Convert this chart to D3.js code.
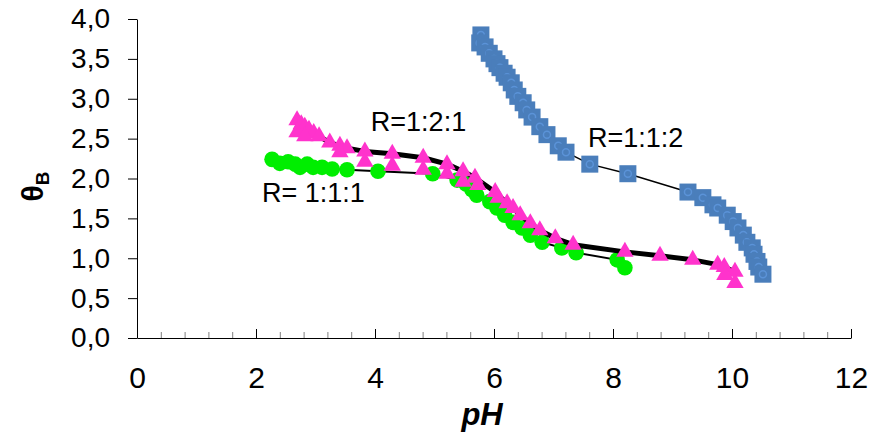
<!DOCTYPE html>
<html>
<head>
<meta charset="utf-8">
<script src="https://cdn.jsdelivr.net/npm/d3@7"></script>
<style>
  body { margin: 0; background: #fff; }
  svg { font-family: "Liberation Sans", Arial, sans-serif; }
  .axis path, .axis line { stroke: #000; }
  .minor line { stroke: #808080; }
</style>
</head>
<body>
<div id="container"></div>
<script>
// R = 1:1:2 (blue squares)
const bluePH    = [5.78, 5.76, 5.85, 5.92, 6.00, 6.05, 6.10, 6.17, 6.22, 6.29, 6.34, 6.40, 6.49, 6.55, 6.64, 6.77, 6.89, 7.08, 7.21, 7.61, 8.25, 9.26, 9.51, 9.68, 9.76, 9.92, 10.02, 10.10, 10.19, 10.25, 10.34, 10.37, 10.42, 10.45, 10.52];
const blueTheta = [3.80, 3.70, 3.65, 3.57, 3.50, 3.44, 3.39, 3.32, 3.27, 3.20, 3.11, 3.03, 2.95, 2.86, 2.77, 2.65, 2.55, 2.41, 2.33, 2.18, 2.06, 1.83, 1.76, 1.67, 1.63, 1.54, 1.46, 1.38, 1.29, 1.20, 1.13, 1.05, 0.96, 0.89, 0.80];

// R = 1:1:1 (green circles)
const greenPH    = [2.27, 2.40, 2.54, 2.66, 2.74, 2.86, 2.96, 3.11, 3.28, 3.53, 4.05, 4.97, 5.38, 5.53, 5.63, 5.71, 5.93, 6.05, 6.18, 6.32, 6.47, 6.61, 6.81, 7.14, 7.38, 8.07, 8.20];
const greenTheta = [2.24, 2.19, 2.21, 2.18, 2.14, 2.18, 2.14, 2.14, 2.12, 2.11, 2.09, 2.06, 1.98, 1.93, 1.86, 1.79, 1.71, 1.63, 1.54, 1.45, 1.38, 1.29, 1.20, 1.13, 1.07, 0.98, 0.88];

// R = 1:2:1 (pink triangles, joined by the line)
const pinkPH    = [2.69, 2.76, 2.82, 2.89, 2.97, 3.06, 3.24, 3.41, 3.53, 3.83, 4.29, 4.81, 5.21, 5.48, 5.68, 6.02, 6.22, 6.32, 6.44, 6.61, 6.77, 7.03, 7.33, 8.20, 8.79, 9.34, 9.76, 9.87, 10.05];
const pinkTheta = [2.73, 2.68, 2.65, 2.61, 2.57, 2.53, 2.45, 2.41, 2.38, 2.34, 2.31, 2.26, 2.18, 2.09, 2.01, 1.83, 1.69, 1.63, 1.54, 1.44, 1.35, 1.25, 1.17, 1.08, 1.03, 0.98, 0.92, 0.89, 0.83];

// R = 1:2:1 second run (pink triangles, no line)
const pink2PH    = [2.69, 2.82, 3.41, 3.83, 4.29, 4.81, 5.21, 5.48, 5.73, 6.07, 9.88, 10.05];
const pink2Theta = [2.58, 2.53, 2.33, 2.21, 2.16, 2.11, 2.06, 1.96, 1.92, 1.76, 0.79, 0.69];

const xTicks = [0, 2, 4, 6, 8, 10, 12];
const yTicks = [0, 0.5, 1, 1.5, 2, 2.5, 3, 3.5, 4];

const labels = [
    { text: "R=1:2:1", pH: 3.93, theta: 2.59 },
    { text: "R=1:1:2", pH: 7.58, theta: 2.39 },
    { text: "R= 1:1:1", pH: 2.10, theta: 1.70 }
];

const width = 873, height = 432;
const margin = { top: 19, right: 22, bottom: 94, left: 137 };

const svg = d3.select("#container").append("svg")
    .attr("width", width)
    .attr("height", height);

const x = d3.scaleLinear()
    .domain([0, 12])
    .range([margin.left, width - margin.right]);

const y = d3.scaleLinear()
    .domain([0, 4])
    .range([height - margin.bottom, margin.top]);

const zip = (a, b) => a.map((v, i) => [v, b[i]]);

// minor x ticks
svg.append("g")
    .attr("class", "axis minor")
    .attr("transform", `translate(0,${y(0)})`)
    .call(d3.axisBottom(x)
        .tickValues(d3.range(0, 61).map(i => i * 0.4).filter(v => v < 12 && Math.abs(v / 2 - Math.round(v / 2)) > 1e-6))
        .tickSize(-6)
        .tickFormat(""))
    .call(g => g.select(".domain").remove());

// x axis
svg.append("g")
    .attr("class", "axis x-axis")
    .attr("transform", `translate(0,${y(0)})`)
    .call(d3.axisBottom(x)
        .tickValues(xTicks)
        .tickSize(-9)
        .tickSizeOuter(0)
        .tickPadding(29))
    .call(g => g.selectAll("text").attr("font-size", 30).attr("fill", "#000"));

// y axis
svg.append("g")
    .attr("class", "axis y-axis")
    .attr("transform", `translate(${x(0)},0)`)
    .call(d3.axisLeft(y)
        .tickValues(yTicks)
        .tickSize(9)
        .tickSizeOuter(0)
        .tickPadding(18)
        .tickFormat(d => d.toFixed(1).replace(".", ",")))
    .call(g => g.selectAll("text").attr("font-size", 28).attr("fill", "#000"));

// axis titles
svg.append("text")
    .attr("x", x(5.8))
    .attr("y", 425)
    .attr("text-anchor", "middle")
    .attr("font-size", 31)
    .attr("font-weight", "bold")
    .attr("font-style", "italic")
    .text("pH");

const yTitle = svg.append("text")
    .attr("transform", `translate(43,${y(1.9)}) rotate(-90)`)
    .attr("text-anchor", "middle")
    .attr("font-size", 30)
    .attr("font-weight", "bold");
yTitle.append("tspan").text("θ");
yTitle.append("tspan").attr("font-size", 19).attr("dy", 6).text("B");

const line = d3.line().x(d => x(d[0])).y(d => y(d[1]));

// green series
svg.append("path")
    .datum(zip(greenPH, greenTheta))
    .attr("fill", "none")
    .attr("stroke", "#000")
    .attr("stroke-width", 2)
    .attr("d", line);

svg.selectAll(".green")
    .data(zip(greenPH, greenTheta))
    .enter().append("circle")
    .attr("class", "green")
    .attr("cx", d => x(d[0]))
    .attr("cy", d => y(d[1]))
    .attr("r", 7.8)
    .attr("fill", "#00ee00");

// pink series
svg.append("path")
    .datum(zip(pinkPH, pinkTheta))
    .attr("fill", "none")
    .attr("stroke", "#000")
    .attr("stroke-width", 5)
    .attr("stroke-linejoin", "round")
    .attr("d", line);

const tri = d3.symbol().type(d3.symbolTriangle).size(130);

svg.selectAll(".pink")
    .data(zip(pinkPH, pinkTheta).concat(zip(pink2PH, pink2Theta)))
    .enter().append("path")
    .attr("class", "pink")
    .attr("transform", d => `translate(${x(d[0])},${y(d[1])})`)
    .attr("d", tri)
    .attr("fill", "#ff33cc");

// blue series
svg.append("path")
    .datum(zip(bluePH, blueTheta))
    .attr("fill", "none")
    .attr("stroke", "#000")
    .attr("stroke-width", 1.5)
    .attr("d", line);

const blue = svg.selectAll(".blue")
    .data(zip(bluePH, blueTheta))
    .enter().append("g")
    .attr("class", "blue")
    .attr("transform", d => `translate(${x(d[0])},${y(d[1])})`);

blue.append("rect")
    .attr("x", -8.5).attr("y", -8.5)
    .attr("width", 17).attr("height", 17)
    .attr("fill", "#4a7ebb");

blue.append("circle")
    .attr("r", 3.5)
    .attr("fill", "none")
    .attr("stroke", "#5b93d8")
    .attr("stroke-width", 1.5);

// series labels
svg.selectAll(".label")
    .data(labels)
    .enter().append("text")
    .attr("class", "label")
    .attr("x", d => x(d.pH))
    .attr("y", d => y(d.theta))
    .attr("font-size", 27)
    .text(d => d.text);
</script>
</body>
</html>
